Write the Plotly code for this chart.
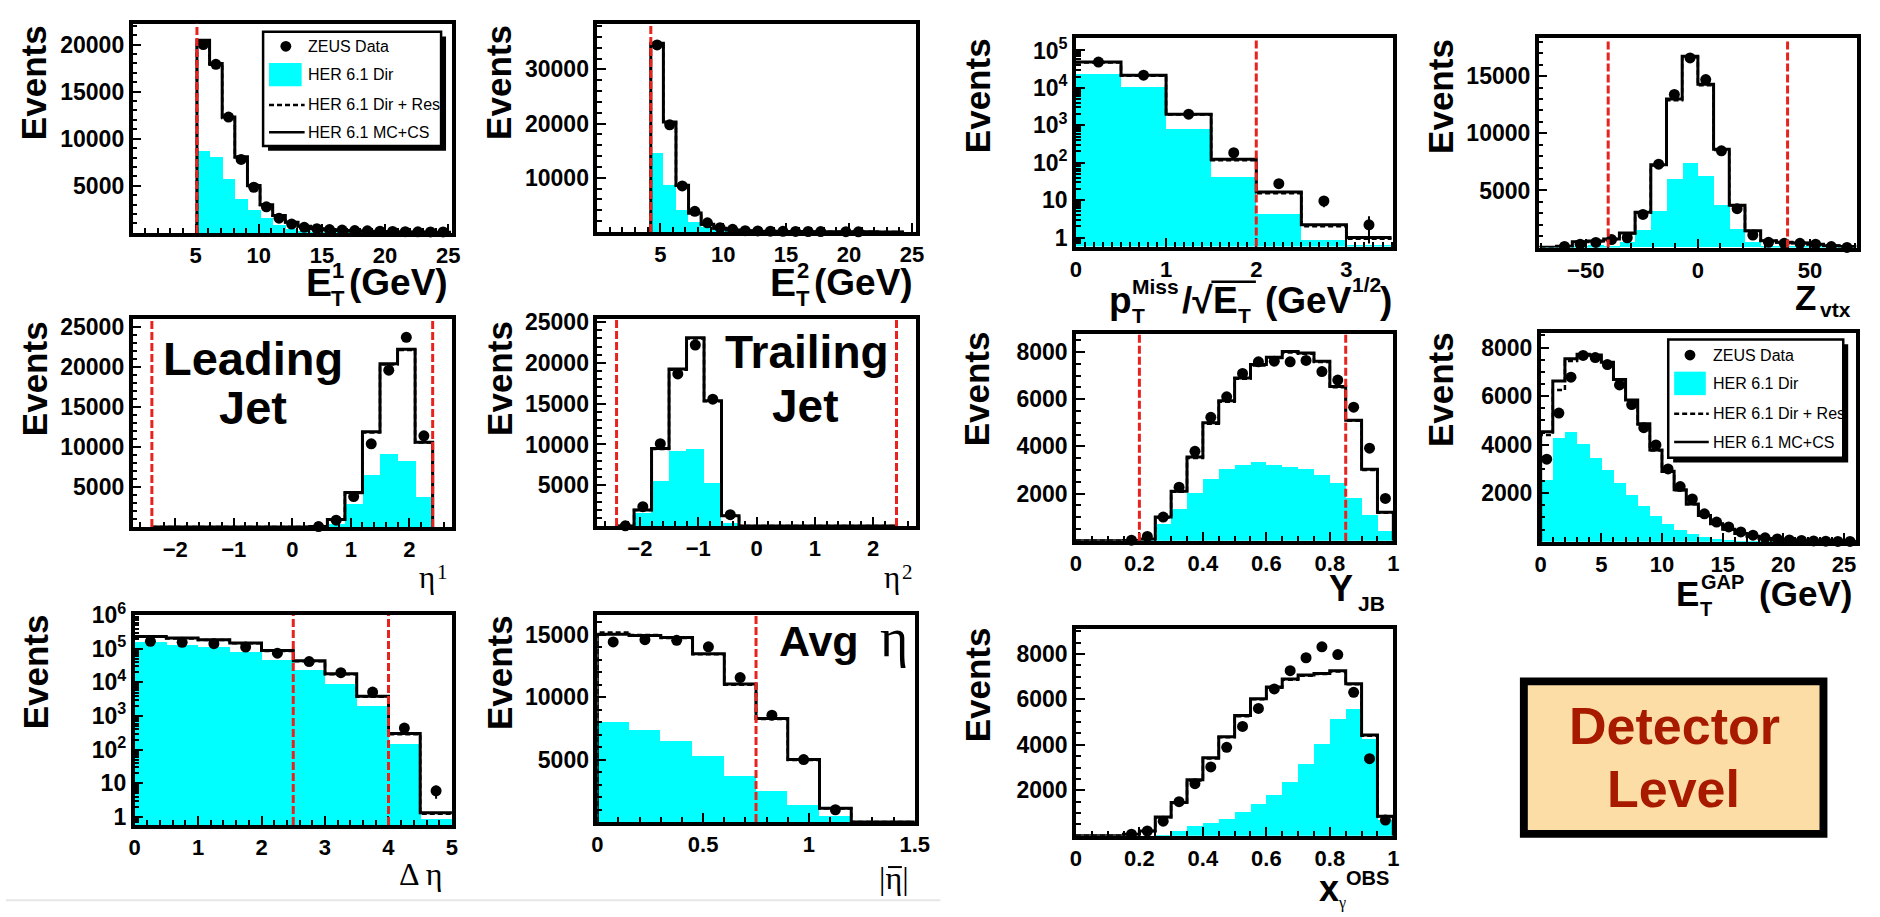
import plotly.graph_objects as go

W, H = 1880, 917
SANS = "Liberation Sans, Arial, Helvetica, sans-serif"
SERIF = "Liberation Serif, Times New Roman, serif"
CYAN = "#00FFFF"
RED = "#E8231E"

KEY_LABELS = ["ZEUS Data", "HER 6.1 Dir", "HER 6.1 Dir + Res", "HER 6.1 MC+CS"]

# ---------------- E_T of the leading jet
ET1_EDGES = [5.1, 6.1, 7.1, 8.1, 9.1, 10.1, 11.1, 12.1, 13.1, 14.1, 15.1,
             16.1, 17.1, 18.1, 19.1, 20.1, 21.1, 22.1, 23.1, 24.1, 25.1]
ET1_DATA = [20000, 17900, 12300, 7800, 4850, 2770, 1560, 940, 590, 450,
            350, 300, 250, 220, 180, 150, 130, 120, 110, 100]
ET1_MCCS = [20450, 18000, 12300, 8080, 5030, 3000, 1840, 1140, 700, 450,
            330, 260, 210, 170, 140, 120, 100, 90, 80, 70]
ET1_DIRRES = [20300, 17850, 12200, 8000, 4980, 2960, 1810, 1120, 690, 440,
              320, 250, 200, 165, 135, 115, 95, 85, 75, 65]
ET1_DIR = [8670, 8080, 5720, 3640, 2430, 1560, 870, 450, 240, 120,
           70, 40, 25, 15, 10, 8, 5, 4, 3, 2]
ET1_CUTS = [5.1]

# ---------------- E_T of the trailing jet
ET2_EDGES = [4.25, 5.25, 6.25, 7.25, 8.25, 9.25, 10.25, 11.25, 12.25, 13.25, 14.25,
             15.25, 16.25, 17.25, 18.25, 19.25, 20.25, 21.25, 22.25, 23.25, 24.25]
ET2_DATA = [34500, 19760, 8490, 3800, 1690, 780, 480, 240, 180, 150,
            120, 100, 80, 60, None, 40, 30, None, None, None]
ET2_MCCS = [34800, 20300, 8600, 3500, 1400, 660, 380, 220, 150, 110,
            80, 60, 50, 40, 30, 25, 20, 15, 10, 8]
ET2_DIRRES = [34600, 20100, 8500, 3450, 1380, 650, 370, 215, 145, 105,
              78, 58, 48, 38, 28, 24, 19, 14, 9, 7]
ET2_DIR = [14600, 8700, 4100, 1870, 900, 400, 180, 90, 50, 30,
           20, 12, 8, 5, 4, 3, 2, 2, 1, 1]
ET2_CUTS = [4.25]

# ---------------- missing pT significance (log scale)
PT_EDGES = [0, 0.5, 1.0, 1.5, 2.0, 2.5, 3.0, 3.5]
PT_DATA = [49000, 21800, 1990, 185, 27.5, 9.5, 2.2]
PT_ERR = [220, 148, 45, 14, 5.2, 3.0, 1.5]
PT_MCCS = [49000, 21800, 1990, 124, 16.6, 2.2, 1.0]
PT_DIRRES = [47500, 21000, 1930, 116, 15.2, 2.0, 0.93]
PT_DIR = [23000, 10300, 760, 41, 4.1, 0.85, 0.6]
PT_CUTS = [2.0]

# ---------------- z of the vertex
ZV_EDGES = [-70, -63, -56, -49, -42, -35, -28, -21, -14, -7, 0,
            7, 14, 21, 28, 35, 42, 49, 56, 63, 70]
ZV_DATA = [None, 100, 300, 450, 700, 860, 2900, 7300, 13400, 16600,
           14700, 8470, 3400, 1100, 460, 370, 370, 300, 90, 10]
ZV_MCCS = [30, 120, 520, 580, 750, 1270, 3100, 7240, 13000, 16750,
           14300, 8600, 3700, 1470, 600, 460, 400, 300, 170, 100]
ZV_DIRRES = [30, 115, 500, 560, 730, 1240, 3050, 7180, 12900, 16650,
             14200, 8550, 3680, 1450, 590, 450, 390, 295, 165, 95]
ZV_DIR = [10, 60, 120, 150, 80, 460, 1470, 3200, 5940, 7380,
          6230, 3700, 1610, 460, 90, 60, 40, 20, 10, 5]
ZV_CUTS = [-40, 40]

# ---------------- eta of the leading jet
ETA_EDGES = [-2.4, -2.1, -1.8, -1.5, -1.2, -0.9, -0.6, -0.3, 0.0,
             0.3, 0.6, 0.9, 1.2, 1.5, 1.8, 2.1, 2.4]
ETA1_DATA = [None, None, None, None, None, None, None, None, None,
             60, 850, 3800, 10400, 19600, 23700, 11400]
ETA1_MCCS = [0, 0, 0, 0, 0, 0, 0, 0, 0,
             80, 930, 4300, 11900, 20400, 22200, 10600]
ETA1_DIRRES = [0, 0, 0, 0, 0, 0, 0, 0, 0,
               75, 910, 4250, 11800, 20300, 22100, 10550]
ETA1_DIR = [0, 0, 0, 0, 0, 0, 0, 0, 0,
            20, 450, 2900, 6460, 9190, 8250, 3780]
ETA_CUTS = [-2.4, 2.4]

# ---------------- eta of the trailing jet
ETA2_DATA = [30, 2380, 10100, 18650, 22200, 15550, 1400,
             None, None, None, None, None, None, None, None, None]
ETA2_MCCS = [0, 1980, 9520, 19250, 23100, 15360, 1270,
             0, 0, 0, 0, 0, 0, 0, 0, 0]
ETA2_DIRRES = [0, 1960, 9450, 19150, 23000, 15300, 1250,
               0, 0, 0, 0, 0, 0, 0, 0, 0]
ETA2_DIR = [0, 1670, 5560, 9250, 9400, 5240, 400,
            0, 0, 0, 0, 0, 0, 0, 0, 0]

# ---------------- y_JB and x_gamma^OBS share the same binning
Y_EDGES = [0.0, 0.05, 0.1, 0.15, 0.2, 0.25, 0.3, 0.35, 0.4, 0.45, 0.5,
           0.55, 0.6, 0.65, 0.7, 0.75, 0.8, 0.85, 0.9, 0.95, 1.0]
YJB_DATA = [None, None, None, 20, 180, 1000, 2270, 3790, 5230, 6100,
            7090, 7580, 7610, 7580, 7640, 7170, 6810, 5660, 3920, 1790]
YJB_MCCS = [0, 0, 0, 10, 70, 1000, 2100, 3550, 5000, 5930,
            6900, 7470, 7780, 8020, 7960, 7610, 6540, 5110, 3030, 1210]
YJB_DIRRES = [0, 0, 0, 10, 65, 980, 2070, 3510, 4960, 5890,
              6860, 7430, 7740, 7980, 7920, 7570, 6500, 5080, 3000, 1190]
YJB_DIR = [0, 0, 0, 0, 100, 730, 1350, 2040, 2630, 3070,
           3210, 3340, 3230, 3140, 3070, 2790, 2480, 1830, 1110, 450]
YJB_CUTS = [0.2, 0.85]

# ---------------- transverse energy in the gap
GAP_EDGES = [0, 1, 2, 3, 4, 5, 6, 7, 8, 9, 10, 11, 12, 13,
             14, 15, 16, 17, 18, 19, 20, 21, 22, 23, 24, 25, 26]
GAP_DATA = [3400, 5300, 6780, 7680, 7590, 7300, 6460, 5650, 4700, 3990,
            3000, 2270, 1760, 1150, 810, 610, 400, 270, 160, 110,
            70, 50, 30, 20, 10, 10]
GAP_MCCS = [4530, 6620, 7540, 7730, 7700, 7400, 6690, 5840, 4860, 3780,
            2900, 2140, 1550, 1080, 740, 510, 340, 220, 135, 95,
            60, 40, 25, 15, 10, 5]
GAP_DIRRES = [4400, 6250, 7450, 7700, 7680, 7380, 6650, 5800, 4830, 3760,
              2880, 2120, 1540, 1070, 730, 500, 335, 215, 130, 90,
              58, 38, 24, 14, 9, 5]
GAP_DIR = [2540, 4300, 4540, 4030, 3450, 2970, 2430, 1960, 1490, 1080,
           740, 510, 340, 200, 135, 70, 40, 20, 10, 5,
           3, 2, 1, 1, 0, 0]

# ---------------- rapidity separation of the two jets (log scale)
DETA_EDGES = [0, 0.5, 1.0, 1.5, 2.0, 2.5, 3.0, 3.5, 4.0, 4.5, 5.0]
DETA_DATA = [166000, 156000, 142000, 112000, 74000, 41500, 19400, 5150, 440, 6.0]
DETA_ERR = [410, 395, 377, 335, 272, 204, 139, 72, 21, 2.5]
DETA_MCCS = [233000, 208000, 186000, 149000, 89000, 44000, 18200, 3870, 302, 1.33]
DETA_DIRRES = [226000, 202000, 181000, 145000, 86500, 42800, 17600, 3750, 290, 1.25]
DETA_DIR = [156000, 133000, 112000, 80000, 47000, 22800, 8720, 1990, 149, 0.9]
DETA_CUTS = [2.5, 4.0]

# ---------------- mean jet pseudorapidity
AVG_EDGES = [0, 0.15, 0.3, 0.45, 0.6, 0.75, 0.9, 1.05, 1.2, 1.35, 1.5]
AVG_DATA = [14440, 14620, 14570, 14050, 11580, 8570, 5010, 990, None, None]
AVG_MCCS = [15060, 14960, 14800, 13500, 11060, 8310, 5010, 1120, 0, 0]
AVG_DIRRES = [15200, 15000, 14750, 13450, 11000, 8260, 4980, 1100, 0, 0]
AVG_DIR = [8000, 7350, 6490, 5270, 3660, 2490, 1380, 470, 0, 0]
AVG_CUTS = [0.75]

# ---------------- x_gamma^OBS
XG_DATA = [None, None, None, 70, 210, 640, 1500, 2290, 3030, 3890,
           4810, 5600, 6460, 7260, 7830, 8310, 7970, 6310, 3390, 690]
XG_MCCS = [0, 0, 0, 70, 210, 830, 1460, 2460, 3430, 4360,
           5290, 6030, 6540, 6890, 7070, 7140, 7260, 6690, 4430, 860]
XG_DIRRES = [0, 0, 0, 70, 205, 815, 1440, 2430, 3400, 4330,
             5260, 6000, 6510, 6860, 7040, 7110, 7230, 6660, 4400, 850]
XG_DIR = [0, 0, 0, 0, 0, 70, 210, 430, 570, 740,
          1070, 1400, 1790, 2390, 3190, 4070, 5170, 5570, 4260, 690]

LOG_TICKS = [1, 10, 100, 1000, 10000, 100000, 1000000]
LOG_TEXT = ["1", "10", "10<sup>2</sup>", "10<sup>3</sup>", "10<sup>4</sup>",
            "10<sup>5</sup>", "10<sup>6</sup>"]

# panel boxes are (left, right, top, bottom) in pixels
PANELS = [
    dict(edges=ET1_EDGES, data=ET1_DATA, err=None, mccs=ET1_MCCS, dirres=ET1_DIRRES, dr=ET1_DIR,
         cuts=ET1_CUTS, box=(128, 451, 8, 222), xr=[0, 25.3], yr=[0, 22200], log=False,
         xt=[5, 10, 15, 20, 25], xm=1, yt=[5000, 10000, 15000, 20000], ym=1000, ev=(28, 68)),
    dict(edges=ET2_EDGES, data=ET2_DATA, err=None, mccs=ET2_MCCS, dirres=ET2_DIRRES, dr=ET2_DIR,
         cuts=ET2_CUTS, box=(598, 920, 8, 221), xr=[0, 25.3], yr=[0, 38400], log=False,
         xt=[5, 10, 15, 20, 25], xm=1, yt=[10000, 20000, 30000], ym=2000, ev=(498, 68)),
    dict(edges=PT_EDGES, data=PT_DATA, err=PT_ERR, mccs=PT_MCCS, dirres=PT_DIRRES, dr=PT_DIR,
         cuts=PT_CUTS, box=(1082, 1403, 23, 236), xr=[0, 3.52], yr=[-0.24, 5.32], log=True,
         xt=[0, 1, 2, 3], xm=0.1, yt=LOG_TICKS[:6], ym=None, ev=(982, 82)),
    dict(edges=ZV_EDGES, data=ZV_DATA, err=None, mccs=ZV_MCCS, dirres=ZV_DIRRES, dr=ZV_DIR,
         cuts=ZV_CUTS, box=(1550, 1872, 23, 237), xr=[-71, 71], yr=[0, 18300], log=False,
         xt=[-50, 0, 50], xm=10, yt=[5000, 10000, 15000], ym=1000, ev=(1450, 82)),
    dict(edges=ETA_EDGES, data=ETA1_DATA, err=None, mccs=ETA1_MCCS, dirres=ETA1_DIRRES, dr=ETA1_DIR,
         cuts=ETA_CUTS, box=(128, 451, 310, 523), xr=[-2.73, 2.73], yr=[0, 26000], log=False,
         xt=[-2, -1, 0, 1, 2], xm=0.2, yt=[5000, 10000, 15000, 20000, 25000], ym=1000, ev=(29, 371)),
    dict(edges=ETA_EDGES, data=ETA2_DATA, err=None, mccs=ETA2_MCCS, dirres=ETA2_DIRRES, dr=ETA2_DIR,
         cuts=ETA_CUTS, box=(598, 920, 310, 522), xr=[-2.73, 2.73], yr=[0, 25400], log=False,
         xt=[-2, -1, 0, 1, 2], xm=0.2, yt=[5000, 10000, 15000, 20000, 25000], ym=1000, ev=(499, 371)),
    dict(edges=Y_EDGES, data=YJB_DATA, err=None, mccs=YJB_MCCS, dirres=YJB_DIRRES, dr=YJB_DIR,
         cuts=YJB_CUTS, box=(1082, 1403, 325, 537), xr=[0, 1], yr=[0, 8780], log=False,
         xt=[0, 0.2, 0.4, 0.6, 0.8, 1], xm=0.05, yt=[2000, 4000, 6000, 8000], ym=500, ev=(981, 382)),
    dict(edges=GAP_EDGES, data=GAP_DATA, err=None, mccs=GAP_MCCS, dirres=GAP_DIRRES, dr=GAP_DIR,
         cuts=[], box=(1552, 1871, 324, 538), xr=[0, 26], yr=[0, 8620], log=False,
         xt=[0, 5, 10, 15, 20, 25], xm=1, yt=[2000, 4000, 6000, 8000], ym=500, ev=(1450, 382)),
    dict(edges=DETA_EDGES, data=DETA_DATA, err=DETA_ERR, mccs=DETA_MCCS, dirres=DETA_DIRRES, dr=DETA_DIR,
         cuts=DETA_CUTS, box=(130, 451, 613, 828), xr=[0, 5], yr=[-0.24, 6.005], log=True,
         xt=[0, 1, 2, 3, 4, 5], xm=0.2, yt=LOG_TICKS, ym=None, ev=(30, 671)),
    dict(edges=AVG_EDGES, data=AVG_DATA, err=None, mccs=AVG_MCCS, dirres=AVG_DIRRES, dr=AVG_DIR,
         cuts=AVG_CUTS, box=(598, 919, 613, 825), xr=[0, 1.5], yr=[0, 16600], log=False,
         xt=[0, 0.5, 1, 1.5], xm=0.1, yt=[5000, 10000, 15000], ym=1000, ev=(499, 672)),
    dict(edges=Y_EDGES, data=XG_DATA, err=None, mccs=XG_MCCS, dirres=XG_DIRRES, dr=XG_DIR,
         cuts=[], box=(1082, 1403, 627, 839), xr=[0, 1], yr=[0, 9110], log=False,
         xt=[0, 0.2, 0.4, 0.6, 0.8, 1], xm=0.05, yt=[2000, 4000, 6000, 8000], ym=500, ev=(982, 685)),
]

fig = go.Figure()
shapes = []
ann = []


def px_x(x):
    return x / W


def px_y(y):
    return 1 - y / H


def txt(x, base, s, size, family=SANS, bold=True, color="black", anchor="left", angle=0):
    yc = base - 0.3465 * size
    ann.append(dict(x=px_x(x), y=px_y(yc), xref="paper", yref="paper", text=s,
                    showarrow=False, xanchor=anchor, yanchor="middle", borderpad=0,
                    textangle=angle,
                    font=dict(family=family, size=size, color=color,
                              weight="bold" if bold else "normal")))


def rect(x0, y0, x1, y1, fill, line_color=None, line_width=0):
    shapes.append(dict(type="rect", xref="paper", yref="paper",
                       x0=px_x(x0), x1=px_x(x1), y0=px_y(y1), y1=px_y(y0),
                       fillcolor=fill, layer="above",
                       line=dict(color=line_color or "rgba(0,0,0,0)", width=line_width)))


def hline(x0, x1, y, color="black", width=2.5, dash="solid"):
    shapes.append(dict(type="line", xref="paper", yref="paper",
                       x0=px_x(x0), x1=px_x(x1), y0=px_y(y), y1=px_y(y),
                       layer="above", line=dict(color=color, width=width, dash=dash)))


def steps(edges, vals, closed):
    xs = [edges[0]] + list(edges)
    ys = [0] + list(vals) + [vals[-1]]
    if closed:
        xs.append(edges[-1])
        ys.append(0)
    else:
        xs, ys = xs[1:], ys[1:]
    return xs, ys


def bold_labels(vals):
    return ["<b>%s</b>" % (("%g" % v).replace("-", "\u2212") if not isinstance(v, str) else v) for v in vals]


layout = {}
for i, p in enumerate(PANELS, start=1):
    sfx = "" if i == 1 else str(i)
    xr_, yr_ = "x" + sfx, "y" + sfx
    l, r, t, b = p["box"]
    edges = p["edges"]
    centers = [(edges[k] + edges[k + 1]) / 2 for k in range(len(edges) - 1)]
    widths = [edges[k + 1] - edges[k] for k in range(len(edges) - 1)]

    fig.add_trace(go.Bar(x=centers, y=p["dr"], width=widths, marker=dict(color=CYAN, line=dict(width=0)),
                         xaxis=xr_, yaxis=yr_, name=KEY_LABELS[1]))
    sx, sy = steps(edges, p["dirres"], not p["log"])
    fig.add_trace(go.Scatter(x=sx, y=sy, mode="lines", line=dict(color="black", width=2.5, dash="5px,3px", shape="hv"),
                             xaxis=xr_, yaxis=yr_, name=KEY_LABELS[2]))
    sx, sy = steps(edges, p["mccs"], not p["log"])
    fig.add_trace(go.Scatter(x=sx, y=sy, mode="lines", line=dict(color="black", width=3, shape="hv"),
                             xaxis=xr_, yaxis=yr_, name=KEY_LABELS[3]))
    err = dict(type="data", array=p["err"], color="black", thickness=2, width=0) if p["err"] else None
    fig.add_trace(go.Scatter(x=centers, y=p["data"], mode="markers", cliponaxis=False,
                             marker=dict(color="black", size=11), error_y=err,
                             xaxis=xr_, yaxis=yr_, name=KEY_LABELS[0]))

    axis_common = dict(showline=True, mirror=True, linewidth=3.5, linecolor="black",
                       ticks="inside", ticklen=9, tickwidth=2, tickcolor="black",
                       showgrid=False, zeroline=False)
    layout["xaxis" + sfx] = dict(axis_common, domain=[px_x(l), px_x(r)], range=p["xr"], anchor=yr_,
                                 tickmode="array", tickvals=p["xt"], ticktext=bold_labels(p["xt"]),
                                 tickfont=dict(family=SANS, size=22, color="black"),
                                 minor=dict(ticks="inside", ticklen=5, tickwidth=1.5, tickcolor="black",
                                            dtick=p["xm"], showgrid=False))
    ya = dict(axis_common, domain=[px_y(b), px_y(t)], range=p["yr"], anchor=xr_,
              tickmode="array", tickvals=p["yt"],
              tickfont=dict(family=SANS, size=23, color="black"))
    if p["log"]:
        ya.update(type="log", ticktext=bold_labels(LOG_TEXT[:len(p["yt"])]),
                  minor=dict(ticks="inside", ticklen=5, tickwidth=1.5, tickcolor="black",
                             dtick="D1", showgrid=False))
    else:
        ya.update(ticktext=bold_labels(p["yt"]),
                  minor=dict(ticks="inside", ticklen=5, tickwidth=1.5, tickcolor="black",
                             dtick=p["ym"], showgrid=False))
    layout["yaxis" + sfx] = ya

    for c in p["cuts"]:
        shapes.append(dict(type="line", xref=xr_, yref=yr_ + " domain", x0=c, x1=c, y0=0, y1=1,
                           layer="above", line=dict(color=RED, width=3, dash="8px,3px")))

    ex, ey = p["ev"]
    ann.append(dict(x=px_x(ex), y=px_y(ey), xref="paper", yref="paper", text="Events",
                    showarrow=False, textangle=-90, xanchor="center", yanchor="middle",
                    font=dict(family=SANS, size=35, color="black", weight="bold")))

# ---- axis titles
# E_T^1 (GeV), E_T^2 (GeV)
for dx, idx in ((0, "1"), (470, "2")):
    txt(302 + dx, 286, "E", 39)
    txt(329 + dx, 268, idx, 22)
    txt(328 + dx, 297, "T", 22)
    txt(346 + dx, 286, "(GeV)", 37)

# p_T^Miss / sqrt(E_T) (GeV^1/2)
txt(1114, 304, "p", 37)
txt(1138, 284, "Miss", 21)
txt(1138, 314, "T", 21)
txt(1188, 304, "/√", 37)
hline(1219, 1264, 272, width=2.5)
txt(1220, 304, "E", 37)
txt(1245, 314, "T", 21)
txt(1272, 304, "(GeV", 37)
txt(1360, 282, "1/2", 21)
txt(1389, 304, ")", 37)

# Z_vtx
txt(1808, 300, "Z", 35)
txt(1833, 308, "vtx", 21)

# eta^1, eta^2
txt(417, 585, "η", 31, family=SERIF, bold=False)
txt(435, 576, "1", 21, family=SERIF, bold=False)
txt(887, 585, "η", 31, family=SERIF, bold=False)
txt(905, 576, "2", 21, family=SERIF, bold=False)

# Y_JB
txt(1337, 598, "Y", 36)
txt(1366, 609, "JB", 21)

# E_T^GAP (GeV)
txt(1688, 603, "E", 35)
txt(1713, 586, "GAP", 20)
txt(1712, 614, "T", 20)
txt(1772, 603, "(GeV)", 35)

# Delta eta
txt(396, 889, "Δ η", 32, family=SERIF, bold=False)

# |mean eta|
txt(882, 893, "|η|", 32, family=SERIF, bold=False)
hline(892, 906, 871, width=2)

# x_gamma^OBS
txt(1327, 905, "x", 36)
txt(1354, 889, "OBS", 20)
txt(1346, 913, "γ", 16, family=SERIF, bold=False)

# ---- in-panel captions
txt(250, 367, "Leading", 47, anchor="center")
txt(250, 417, "Jet", 47, anchor="center")
txt(810, 360, "Trailing", 46, anchor="center")
txt(808, 415, "Jet", 46, anchor="center")
txt(781, 655, "Avg", 43)
txt(883, 655, "η", 54, family=SERIF, bold=False)


# ---- keys
def draw_key(x0, y0, x1, y1, rows, sym0, sym1, dot_x, text_x):
    rect(x0 + 5, y0 + 5, x1 + 5, y1 + 5, "black")
    rect(x0, y0, x1, y1, "white", "black", 2.5)
    r = 5.5
    shapes.append(dict(type="circle", xref="paper", yref="paper", layer="above",
                       x0=px_x(dot_x - r), x1=px_x(dot_x + r),
                       y0=px_y(rows[0] + r), y1=px_y(rows[0] - r),
                       fillcolor="black", line=dict(color="black", width=0)))
    rect(sym0, rows[1] - 12, sym1 - 3, rows[1] + 12, CYAN)
    hline(sym0, sym1, rows[2], width=2.5, dash="5px,3px")
    hline(sym0, sym1, rows[3], width=2.5)
    for lab, yy in zip(KEY_LABELS, rows):
        ann.append(dict(x=px_x(text_x), y=px_y(yy), xref="paper", yref="paper", text=lab,
                        showarrow=False, xanchor="left", yanchor="middle", borderpad=0,
                        font=dict(family=SANS, size=16, color="black")))


draw_key(260, 16, 440, 133, [31, 60, 91, 119], 266, 302, 283, 304)
draw_key(1681, 331, 1858, 452, [347, 376, 407, 436], 1687, 1722, 1703, 1725)

# ---- level box
rect(1531, 677, 1842, 841, "black")
rect(1539, 685, 1834, 833, "#FDDDA6")
txt(1687, 745, "Detector", 52, color="#A81A00", anchor="center")
txt(1686, 809, "Level", 52, color="#A81A00", anchor="center")

hline(0, 945, 905, color="#E6E6E6", width=2)

fig.update_layout(
    width=W, height=H, margin=dict(l=0, r=0, t=0, b=0),
    paper_bgcolor="white", plot_bgcolor="white", showlegend=False,
    barmode="overlay", bargap=0, shapes=shapes, annotations=ann,
    **layout,
)
fig.write_html("out.html")
